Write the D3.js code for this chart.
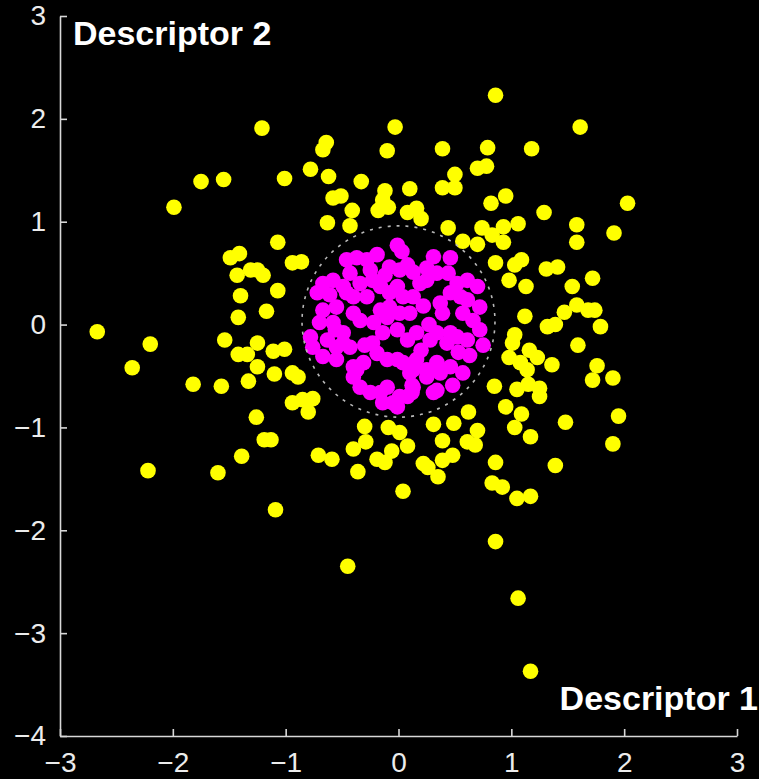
<!DOCTYPE html>
<html>
<head>
<meta charset="utf-8">
<title>Descriptor scatter</title>
<script src="https://cdn.jsdelivr.net/npm/d3@7"></script>
<style>
    body { margin: 0; background: #000; }
    .axis path, .axis line { stroke: #d8d8d8; stroke-width: 1.6; }
    .axis text { fill: #ececec; font-family: "Liberation Sans", Arial, sans-serif; font-size: 28px; }
    .axisTitle { fill: #fff; font-family: "Liberation Sans", Arial, sans-serif; font-size: 34px; font-weight: bold; }
</style>
</head>
<body>
<script>
//scatter of two descriptors, outer ring (yellow) and inner cluster (magenta)

(function(){

//outer class, [descriptor 1, descriptor 2]
var outerPoints = [
    [0.86, 2.23], [-1.21, 1.91], [-0.03, 1.92], [1.61, 1.92], [0.39, 1.71], [0.79, 1.72],
    [1.18, 1.71], [-0.64, 1.77], [-0.67, 1.70], [-0.10, 1.69], [-1.75, 1.39], [-1.55, 1.41],
    [-1.01, 1.42], [-0.78, 1.51], [-0.62, 1.44], [-0.33, 1.39], [-0.58, 1.23], [-0.51, 1.25],
    [-0.41, 1.11], [-1.99, 1.14], [-0.63, 0.99], [-0.43, 0.96], [-1.07, 0.80], [-1.49, 0.65],
    [-1.41, 0.69], [-1.43, 0.48], [-1.31, 0.53], [-1.25, 0.53], [-1.20, 0.48], [-1.40, 0.28],
    [-1.07, 0.33], [-1.42, 0.07], [-1.17, 0.13], [-2.67, -0.07], [-2.20, -0.19], [-1.54, -0.15],
    [-1.25, -0.18], [-1.42, -0.29], [-1.34, -0.29], [-1.11, -0.26], [-1.01, -0.24], [-2.36, -0.42],
    [-1.25, -0.41], [-1.10, -0.48], [-1.33, -0.55], [-0.94, -0.47], [-0.89, -0.51], [-1.82, -0.58],
    [-1.57, -0.60], [-0.94, -0.76], [-0.85, -0.73], [-0.76, -0.72], [-0.80, -0.85], [-1.26, -0.90],
    [-1.19, -1.12], [-1.13, -1.12], [-1.39, -1.28], [-2.22, -1.42], [-1.60, -1.44], [-1.09, -1.80],
    [-0.71, -1.27], [-0.59, -1.31], [-0.30, -0.99], [-0.29, -1.14], [-0.40, -1.21], [-0.36, -1.43],
    [-0.19, -1.31], [-0.12, -1.34], [-0.09, -1.00], [0.01, -1.05], [0.08, -1.18], [-0.06, -1.23],
    [0.04, -1.62], [0.22, -1.35], [0.26, -1.39], [0.31, -0.97], [0.49, -0.96], [0.39, -1.13],
    [0.48, -1.27], [0.39, -1.32], [0.35, -1.48], [0.62, -0.85], [0.61, -1.14], [0.70, -1.03],
    [0.68, -1.17], [-0.45, -2.35], [0.50, 1.46], [0.39, 1.33], [0.50, 1.33], [0.10, 1.32],
    [-0.12, 1.30], [-0.14, 1.21], [-0.18, 1.11], [-0.09, 1.14], [0.08, 1.09], [0.16, 1.13],
    [0.20, 1.03], [0.44, 0.94], [0.57, 0.81], [-0.94, 0.60], [-0.86, 0.61], [0.70, 1.52],
    [0.78, 1.54], [0.95, 1.25], [0.82, 1.18], [2.03, 1.18], [1.29, 1.09], [1.58, 0.97],
    [1.58, 0.80], [1.91, 0.89], [0.74, 0.94], [0.83, 0.87], [0.93, 0.95], [1.06, 0.98],
    [0.93, 0.80], [0.70, 0.78], [0.86, 0.60], [1.03, 0.58], [1.09, 0.63], [1.31, 0.54],
    [1.41, 0.56], [0.98, 0.43], [1.13, 0.37], [1.54, 0.37], [1.72, 0.45], [1.12, 0.08],
    [1.47, 0.12], [1.58, 0.19], [1.68, 0.14], [1.74, 0.14], [1.79, -0.02], [1.32, -0.02],
    [1.39, 0.00], [1.03, -0.10], [1.01, -0.18], [1.59, -0.20], [0.98, -0.32], [1.08, -0.37],
    [1.16, -0.25], [1.23, -0.32], [1.14, -0.44], [1.36, -0.39], [1.76, -0.40], [1.90, -0.52],
    [1.72, -0.54], [0.85, -0.60], [1.05, -0.63], [1.15, -0.58], [1.25, -0.62], [1.25, -0.70],
    [0.95, -0.80], [1.09, -0.87], [1.03, -1.00], [1.48, -0.95], [1.95, -0.89], [1.17, -1.09],
    [1.90, -1.16], [0.86, -1.34], [1.39, -1.37], [0.83, -1.54], [0.92, -1.58], [1.05, -1.69],
    [1.17, -1.67], [0.86, -2.11], [1.06, -2.66], [1.17, -3.37]
];

//inner class
var innerPoints = [
    [-0.01, 0.77], [0.03, 0.71], [-0.19, 0.68], [-0.46, 0.63], [-0.37, 0.65], [-0.28, 0.63],
    [0.46, 0.65], [0.31, 0.66], [-0.08, 0.56], [0.08, 0.58], [0.13, 0.51], [0.25, 0.55],
    [0.34, 0.50], [-0.43, 0.50], [-0.25, 0.53], [-0.49, 0.37], [-0.34, 0.40], [-0.23, 0.43],
    [-0.16, 0.37], [-0.67, 0.40], [-0.58, 0.43], [-0.72, 0.31], [-0.40, 0.27], [-0.28, 0.27],
    [-0.01, 0.37], [0.04, 0.27], [0.19, 0.40], [0.25, 0.43], [0.52, 0.40], [0.61, 0.43],
    [0.46, 0.31], [0.55, 0.27], [-0.67, 0.14], [-0.55, 0.17], [-0.40, 0.11], [-0.34, 0.04],
    [-0.16, 0.14], [-0.08, 0.17], [0.10, 0.11], [0.37, 0.21], [0.39, 0.11], [0.57, 0.11],
    [-0.70, 0.02], [-0.58, 0.02], [-0.49, -0.08], [-0.78, -0.12], [-0.76, -0.22], [-0.63, -0.15],
    [-0.55, -0.22], [-0.43, -0.22], [-0.23, -0.18], [-0.14, -0.08], [-0.01, -0.05], [0.08, -0.15],
    [0.16, -0.08], [0.28, -0.15], [0.34, -0.08], [0.43, -0.18], [0.52, -0.12], [-0.67, -0.31],
    [-0.55, -0.34], [-0.40, -0.41], [-0.31, -0.37], [-0.19, -0.28], [-0.10, -0.34], [0.04, -0.37],
    [0.13, -0.44], [0.25, -0.44], [0.34, -0.37], [0.46, -0.41], [0.57, -0.47], [0.01, 0.53],
    [0.70, 0.37], [-0.08, 0.31], [0.13, 0.27], [0.61, 0.24], [0.72, 0.17], [-0.10, 0.07],
    [0.01, 0.11], [0.66, 0.04], [0.46, -0.08], [0.61, -0.15], [0.75, -0.20], [-0.01, -0.34],
    [0.16, -0.34], [0.25, -0.51], [0.37, -0.47], [-0.10, -0.61], [0.01, -0.70], [0.12, -0.66],
    [0.12, -0.59], [0.31, -0.66], [0.48, -0.59], [-0.01, -0.80], [-0.14, -0.76], [-0.46, 0.31],
    [-0.49, -0.18], [-0.37, -0.44], [-0.34, -0.61], [-0.25, -0.66], [-0.40, -0.51], [-0.16, -0.66],
    [-0.05, -0.76], [0.08, -0.70], [0.13, -0.61], [0.34, -0.64], [0.10, -0.47],
    [0.44, 0.50], [0.72, -0.05], [0.63, -0.30], [-0.61, 0.29], [-0.30, -0.20], [-0.56, -0.05],
    [0.22, 0.18], [-0.22, 0.02], [0.27, 0.00], [-0.12, 0.48], [0.53, -0.27], [0.20, -0.25]
];

//dashed boundary, radii along each descriptor
var boundary = { cx: 0, cy: 0.03, rx: 0.855, ry: 0.93 };

var xTicks = [-3, -2, -1, 0, 1, 2, 3];
var yTicks = [-4, -3, -2, -1, 0, 1, 2, 3];
var xTitle = "Descriptor 1",
    yTitle = "Descriptor 2";

window.onload = setChart;

function setChart(){
    var width = 759,
        height = 779;

    var svg = d3.select("body")
        .append("svg")
        .attr("width", width)
        .attr("height", height)
        .style("display", "block");

    svg.append("rect")
        .attr("width", width)
        .attr("height", height)
        .attr("fill", "#000");

    var x = d3.scaleLinear()
        .domain([-3, 3])
        .range([60, 737]);

    var y = d3.scaleLinear()
        .domain([-4, 3])
        .range([736, 16]);

    var fmt = d3.format("d");

    //axes, ticks pointing inward
    svg.append("g")
        .attr("class", "axis")
        .attr("transform", "translate(0," + y(-4) + ")")
        .call(d3.axisBottom(x).tickValues(xTicks).tickFormat(fmt)
            .tickSizeInner(-7).tickSizeOuter(0).tickPadding(16));

    svg.append("g")
        .attr("class", "axis")
        .attr("transform", "translate(" + x(-3) + ",0)")
        .call(d3.axisLeft(y).tickValues(yTicks).tickFormat(fmt)
            .tickSizeInner(-7).tickSizeOuter(0).tickPadding(14));

    //points
    svg.selectAll(".outer")
        .data(outerPoints)
        .enter()
        .append("circle")
        .attr("class", "outer")
        .attr("cx", function(d){ return x(d[0]); })
        .attr("cy", function(d){ return y(d[1]); })
        .attr("r", 7.8)
        .attr("fill", "#ffff00");

    svg.selectAll(".inner")
        .data(innerPoints)
        .enter()
        .append("circle")
        .attr("class", "inner")
        .attr("cx", function(d){ return x(d[0]); })
        .attr("cy", function(d){ return y(d[1]); })
        .attr("r", 7.8)
        .attr("fill", "#ff00ff");

    svg.append("ellipse")
        .attr("cx", x(boundary.cx))
        .attr("cy", y(boundary.cy))
        .attr("rx", x(boundary.rx) - x(0))
        .attr("ry", y(0) - y(boundary.ry))
        .attr("fill", "none")
        .attr("stroke", "#b8b8b8")
        .attr("stroke-width", 1.6)
        .attr("stroke-dasharray", "3,6");

    //axis titles
    svg.append("text")
        .attr("class", "axisTitle")
        .attr("x", 73)
        .attr("y", 45)
        .text(yTitle);

    svg.append("text")
        .attr("class", "axisTitle")
        .attr("x", 758)
        .attr("y", 710)
        .attr("text-anchor", "end")
        .text(xTitle);
};

})();
</script>
</body>
</html>
